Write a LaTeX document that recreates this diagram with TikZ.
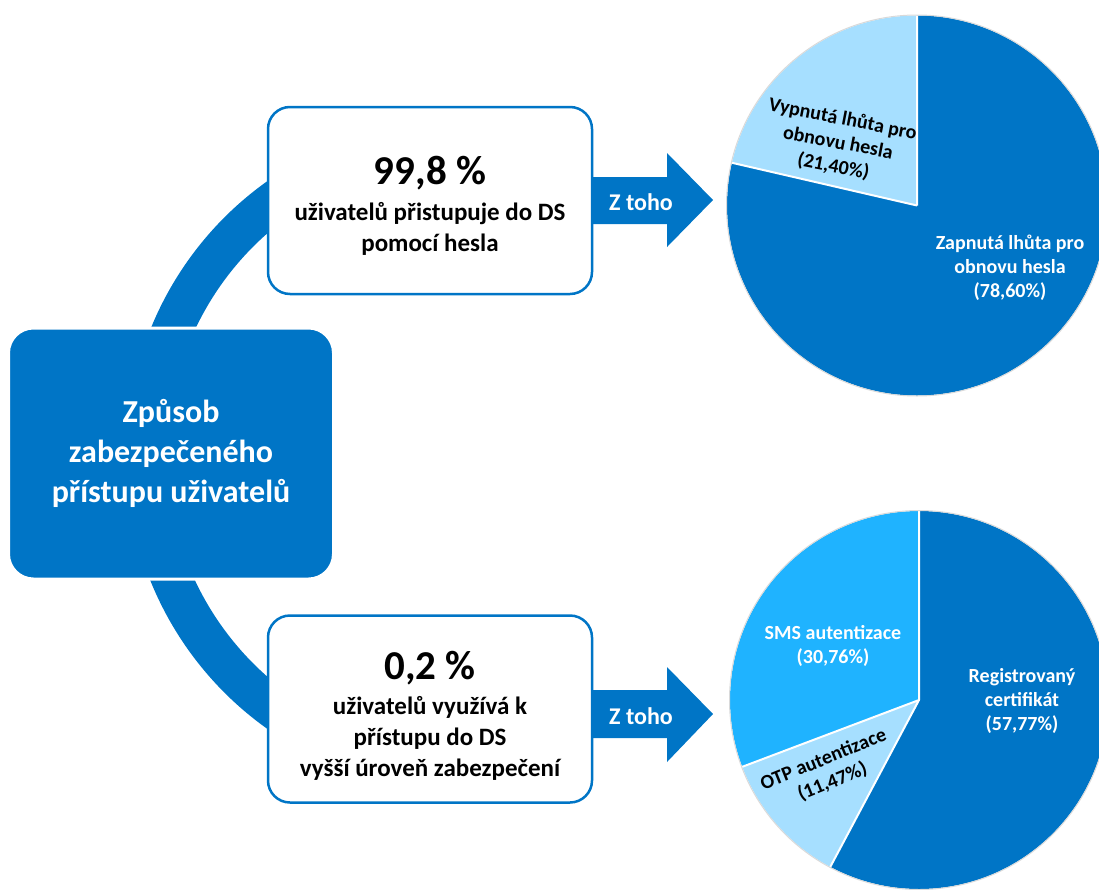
\documentclass[tikz,border=0pt]{standalone}
\usepackage{fontspec}
\setmainfont{Carlito}
\usetikzlibrary{calc}
\definecolor{dsblue}{RGB}{0,117,198}
\definecolor{dslight}{RGB}{166,223,255}
\definecolor{dssky}{RGB}{31,179,255}
\begin{document}
\begin{tikzpicture}[x=1pt,y=1pt,
  hubbox/.style={fill=dsblue, draw=white, line width=3pt, rounded corners=25pt,
    minimum width=325pt, minimum height=251pt, inner sep=0pt, text=white,
    align=center, font=\fontsize{32}{40}\selectfont\bfseries},
  statbox/.style={fill=white, draw=dsblue, line width=2.5pt, rounded corners=22pt,
    minimum width=324pt, minimum height=187pt, inner sep=0pt},
  bignum/.style={inner sep=0pt, font=\fontsize{41}{48}\selectfont\bfseries},
  desc/.style={inner sep=0pt, align=center, font=\fontsize{25}{31}\selectfont\bfseries},
  arrowlbl/.style={inner sep=0pt, text=white, font=\fontsize{24}{28}\selectfont\bfseries},
  pielbl/.style={inner sep=0pt, align=center, font=\fontsize{20}{24}\selectfont\bfseries},
  sep/.style={white, line width=2pt},
  rim/.style={black!15, line width=1pt}]
\useasboundingbox (0,0) rectangle (1099,-889);
\clip (0,0) rectangle (1099,-889);

% ring linking the hub with both statistic boxes
\coordinate (ring) at (462,-455);
\draw[dsblue, line width=41pt] (ring) ++(125:315.5)
  arc[start angle=125, end angle=235, radius=315.5];

% "Z toho" arrows
\fill[dsblue] (585,-177) -- (667,-177) -- (667,-153) -- (713,-200)
  -- (667,-247) -- (667,-224) -- (585,-224) -- cycle;
\fill[dsblue] (585,-690) -- (667,-690) -- (667,-667) -- (713,-714)
  -- (667,-762) -- (667,-738) -- (585,-738) -- cycle;
\node[arrowlbl] (pwdfrom) at (641,-202) {Z toho};
\node[arrowlbl] (secfrom) at (641,-716) {Z toho};

% hub
\node[hubbox] (hub) at (171,-453.5) {Způsob\\zabezpečeného\\přístupu uživatelů};

% password box
\node[statbox] (pwd) at (430,-200.5) {};
\node[bignum] (pwdval) at (430,-173) {99,8 \%};
\node[desc] (pwddesc) at (430,-229) {uživatelů přistupuje do DS\\pomocí hesla};

% higher security box
\node[statbox] (sec) at (430,-709) {};
\node[bignum] (secval) at (430,-668) {0,2 \%};
\node[desc] (secdesc) at (430,-738) {uživatelů využívá k\\přístupu do DS\\vyšší úroveň zabezpečení};

% pie: password expiry
\coordinate (pieA) at (917,-205.5);
\fill[dsblue] (pieA) -- ++(90:190) arc[start angle=90, end angle=-193, radius=190] -- cycle;
\fill[dslight] (pieA) -- ++(90:190) arc[start angle=90, end angle=167, radius=190] -- cycle;
\draw[sep] (pieA) -- ++(90:190) (pieA) -- ++(167:190);
\draw[rim] (pieA) circle[radius=190.5];
\node[pielbl, rotate=-11] (offlbl) at (838,-143) {Vypnutá lhůta pro\\obnovu hesla\\(21,40\%)};
\node[pielbl, text=white] (onlbl) at (1010,-268) {Zapnutá lhůta pro\\obnovu hesla\\(78,60\%)};

% pie: authentication methods
\coordinate (pieB) at (919,-700);
\fill[dsblue] (pieB) -- ++(90:189) arc[start angle=90, end angle=-118, radius=189] -- cycle;
\fill[dslight] (pieB) -- ++(-118:189) arc[start angle=-118, end angle=-159.3, radius=189] -- cycle;
\fill[dssky] (pieB) -- ++(-159.3:189) arc[start angle=-159.3, end angle=-270, radius=189] -- cycle;
\draw[sep] (pieB) -- ++(90:189) (pieB) -- ++(-118:189) (pieB) -- ++(-159.3:189);
\draw[rim] (pieB) circle[radius=189.5];
\node[pielbl, text=white] (smslbl) at (833,-646) {SMS autentizace\\(30,76\%)};
\node[pielbl, text=white] (certlbl) at (1022,-701) {Registrovaný\\certifikát\\(57,77\%)};
\node[pielbl, rotate=22] (otplbl) at (828,-771) {OTP autentizace\\(11,47\%)};
\end{tikzpicture}
\end{document}
